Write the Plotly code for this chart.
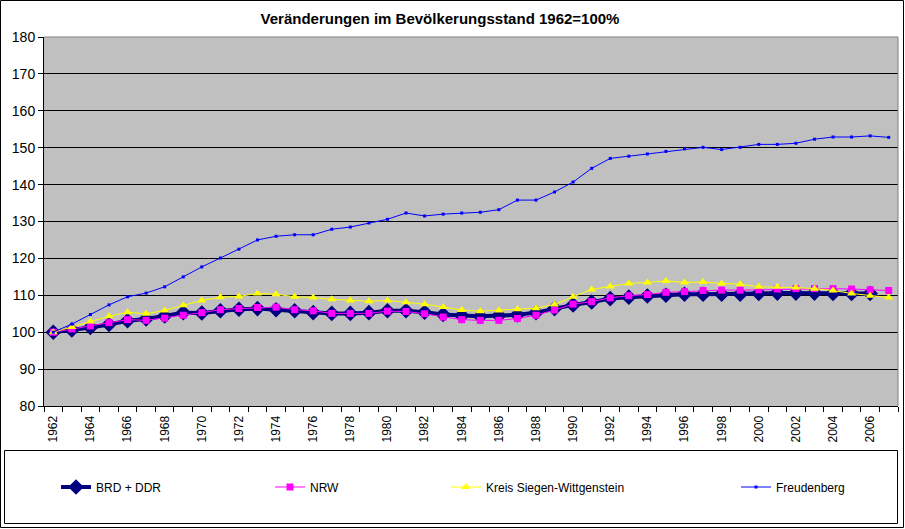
import plotly.graph_objects as go

years = list(range(1962, 2008))
tick_years = years[::2]
tick_labels = [str(y) for y in tick_years]
y_ticks = list(range(80, 181, 10))

brd = [100.0, 100.6, 101.3, 102.1, 103.1, 103.6, 104.4, 105.3, 105.2, 105.8,
       106.2, 106.4, 106.1, 105.8, 105.3, 105.1, 105.1, 105.3, 105.8, 105.8,
       105.4, 104.8, 104.5, 104.3, 104.5, 104.7, 105.3, 106.4, 107.4, 108.2,
       109.1, 109.5, 109.8, 110.0, 110.3, 110.3, 110.3, 110.3, 110.5, 110.6,
       110.6, 110.6, 110.5, 110.5, 110.5, None]
nrw = [100.0, 100.9, 101.7, 102.6, 103.4, 103.2, 103.8, 104.6, 105.3, 106.1,
       106.4, 106.7, 106.8, 106.1, 105.8, 105.1, 105.1, 105.1, 105.7, 105.6,
       105.0, 104.1, 103.4, 103.2, 103.2, 103.7, 104.6, 106.0, 107.6, 108.3,
       109.3, 109.9, 110.2, 110.8, 111.0, 111.3, 111.4, 111.4, 111.5, 111.7,
       111.8, 111.8, 111.8, 111.7, 111.5, 111.3]
kreis = [100.0, 101.4, 102.9, 104.3, 105.4, 105.0, 105.9, 107.3, 108.6, 109.5,
         109.7, 110.5, 110.3, 109.6, 109.4, 108.9, 108.6, 108.4, 108.6, 108.1,
         107.6, 106.8, 106.0, 105.7, 105.9, 106.2, 106.5, 107.5, 109.6, 111.6,
         112.4, 113.2, 113.5, 113.9, 113.5, 113.6, 113.2, 113.0, 112.3, 112.3,
         112.1, 111.8, 111.3, 110.5, 109.9, 109.4]
freud = [100.0, 102.2, 104.8, 107.4, 109.6, 110.6, 112.3, 115.0, 117.7, 120.1,
         122.5, 125.0, 126.0, 126.4, 126.4, 127.9, 128.5, 129.6, 130.6, 132.3,
         131.5, 132.0, 132.3, 132.5, 133.2, 135.8, 135.8, 138.0, 140.7, 144.4,
         147.1, 147.7, 148.3, 149.0, 149.7, 150.1, 149.5, 150.1, 150.9, 150.9,
         151.2, 152.3, 152.9, 152.9, 153.2, 152.8]

W, H = 905, 529
L, R, T, B = 44, 898, 37, 406  # plot area in pixels


def px(x):
    return (x - L) / (R - L)


def py(y):
    return (B - y) / (B - T)


FONT = "Arial, Liberation Sans, sans-serif"

fig = go.Figure()
fig.add_trace(go.Scatter(x=years, y=brd, name="BRD + DDR", mode="lines+markers",
                         line=dict(color="#000080", width=4),
                         marker=dict(symbol="diamond", size=12, color="#000080"),
                         legend="legend"))
fig.add_trace(go.Scatter(x=years, y=nrw, name="NRW", mode="lines+markers",
                         line=dict(color="#FF00FF", width=1),
                         marker=dict(symbol="square", size=7, color="#FF00FF"),
                         legend="legend2"))
fig.add_trace(go.Scatter(x=years, y=kreis, name="Kreis Siegen-Wittgenstein", mode="lines+markers",
                         line=dict(color="#FFFF00", width=1),
                         marker=dict(symbol="triangle-up", size=8, color="#FFFF00"),
                         legend="legend3"))
fig.add_trace(go.Scatter(x=years, y=freud, name="Freudenberg", mode="lines+markers",
                         line=dict(color="#0000FF", width=1),
                         marker=dict(symbol="square", size=3, color="#0000FF"),
                         legend="legend4"))

leg_common = dict(orientation="h", yanchor="middle", y=py(487), xanchor="left",
                  bgcolor="rgba(0,0,0,0)", font=dict(family=FONT, size=12, color="black"),
                  itemclick=False, visible=True)
legend_x = [56, 270, 446, 736]

fig.update_layout(
    width=W, height=H,
    margin=dict(l=L, r=W - R, t=T, b=H - B, pad=0, autoexpand=False),
    paper_bgcolor="white",
    plot_bgcolor="#C0C0C0",
    showlegend=True,
    title=dict(text="<b>Veränderungen im Bevölkerungsstand 1962=100%</b>",
               x=px(440), xref="paper", xanchor="center",
               y=1 - 19 / H, yref="container", yanchor="middle",
               font=dict(family=FONT, size=15, color="black")),
    legend=dict(x=px(legend_x[0]), **leg_common),
    legend2=dict(x=px(legend_x[1]), **leg_common),
    legend3=dict(x=px(legend_x[2]), **leg_common),
    legend4=dict(x=px(legend_x[3]), **leg_common),
    xaxis=dict(range=[years[0] - 0.5, years[-1] + 0.5],
               tickmode="array", tickvals=tick_years, ticktext=tick_labels,
               tickangle=-90, ticks="outside", ticklen=4, tickcolor="rgba(0,0,0,0)",
               tickfont=dict(family=FONT, size=12, color="black"),
               showgrid=False, zeroline=False,
               showline=True, linecolor="black", linewidth=1,
               minor=dict(tickmode="array", tickvals=[y - 0.5 for y in years] + [years[-1] + 0.5],
                          ticks="outside", ticklen=5, tickcolor="black", tickwidth=1,
                          showgrid=False)),
    yaxis=dict(range=[80, 180], tickmode="array", tickvals=y_ticks,
               ticks="outside", ticklen=5, tickcolor="black",
               tickfont=dict(family=FONT, size=14, color="black"),
               showgrid=True, gridcolor="black", gridwidth=1, zeroline=False,
               showline=True, linecolor="black", linewidth=1),
    shapes=[
        dict(type="line", xref="paper", yref="paper", x0=0, x1=1, y0=1, y1=1,
             line=dict(color="#808080", width=1)),
        dict(type="line", xref="paper", yref="paper", x0=1, x1=1, y0=0, y1=1,
             line=dict(color="#808080", width=1)),
        dict(type="rect", xref="paper", yref="paper",
             x0=px(4.5), x1=px(897.5), y0=py(523.5), y1=py(450.5),
             line=dict(color="black", width=1), fillcolor="rgba(0,0,0,0)"),
        dict(type="rect", xref="paper", yref="paper",
             x0=px(0.5), x1=px(903.5), y0=py(527.5), y1=py(0.5),
             line=dict(color="black", width=1), fillcolor="rgba(0,0,0,0)"),
    ],
)

fig.write_html("out.html",
               config={"displayModeBar": False},
               post_script="document.body.style.margin='0';document.body.style.overflow='hidden';")
